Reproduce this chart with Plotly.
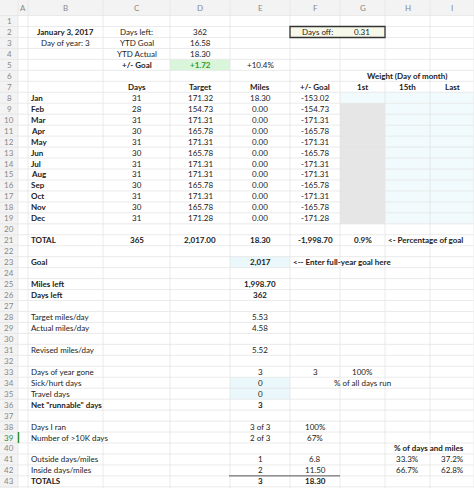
import plotly.graph_objects as go

# ---- data ----
months = ["Jan", "Feb", "Mar", "Apr", "May", "Jun", "Jul", "Aug", "Sep", "Oct", "Nov", "Dec"]
month_days = [31, 28, 31, 30, 31, 30, 31, 31, 30, 31, 30, 31]
month_target = [171.32, 154.73, 171.31, 165.78, 171.31, 165.78, 171.31, 171.31, 165.78, 171.31, 165.78, 171.28]
month_miles = [18.30, 0, 0, 0, 0, 0, 0, 0, 0, 0, 0, 0]
month_diff = [-153.02, -154.73, -171.31, -165.78, -171.31, -165.78, -171.31, -171.31, -165.78, -171.31, -165.78, -171.28]

col_letters = ["A", "B", "C", "D", "E", "F", "G", "H", "I"]
col_edges = [18, 28, 103, 170, 230, 290, 340, 385, 430, 474]
ROW_H = 10.96
N_ROWS = 43


def row_top(r):
    return 32 - ROW_H / 2 + (r - 2) * ROW_H


def row_mid(r):
    return 32 + (r - 2) * ROW_H


def col_mid(c):
    i = col_letters.index(c)
    return (col_edges[i] + col_edges[i + 1]) / 2


# (row, col, text, bold, align)
cells = [
    (2, "B", "January 3, 2017", True, "center"),
    (3, "B", "Day of year: 3", False, "center"),
    (2, "C", "Days left:", False, "center"),
    (3, "C", "YTD Goal", False, "center"),
    (4, "C", "YTD Actual", False, "center"),
    (5, "C", "+/- Goal", True, "center"),
    (2, "D", "362", False, "center"),
    (3, "D", "16.58", False, "center"),
    (4, "D", "18.30", False, "center"),
    (5, "E", "+10.4%", False, "center"),
    (7, "C", "Days", True, "center"),
    (7, "D", "Target", True, "center"),
    (7, "E", "Miles", True, "center"),
    (7, "F", "+/- Goal", True, "center"),
    (7, "G", "1st", True, "center"),
    (7, "H", "15th", True, "center"),
    (7, "I", "Last", True, "center"),
    (21, "B", "TOTAL", True, "left"),
    (21, "G", "0.9%", True, "center"),
    (21, "H", "<- Percentage of goal", True, "left"),
    (23, "B", "Goal", True, "left"),
    (23, "E", "2,017", True, "center"),
    (23, "F", "<-- Enter full-year goal here", True, "left"),
    (25, "B", "Miles left", True, "left"),
    (25, "E", "1,998.70", True, "center"),
    (26, "B", "Days left", True, "left"),
    (26, "E", "362", True, "center"),
    (28, "B", "Target miles/day", False, "left"),
    (28, "E", "5.53", False, "center"),
    (29, "B", "Actual miles/day", False, "left"),
    (29, "E", "4.58", False, "center"),
    (31, "B", "Revised miles/day", False, "left"),
    (31, "E", "5.52", False, "center"),
    (33, "B", "Days of year gone", False, "left"),
    (33, "E", "3", False, "center"),
    (33, "F", "3", False, "center"),
    (33, "G", "100%", False, "center"),
    (34, "B", "Sick/hurt days", False, "left"),
    (34, "E", "0", False, "center"),
    (34, "G", "% of all days run", False, "center"),
    (35, "B", "Travel days", False, "left"),
    (35, "E", "0", False, "center"),
    (36, "B", "Net \"runnable\" days", True, "left"),
    (36, "E", "3", True, "center"),
    (38, "B", "Days I ran", False, "left"),
    (38, "E", "3 of 3", False, "center"),
    (38, "F", "100%", False, "center"),
    (39, "B", "Number of >10K days", False, "left"),
    (39, "E", "2 of 3", False, "center"),
    (39, "F", "67%", False, "center"),
    (41, "B", "Outside days/miles", False, "left"),
    (41, "E", "1", False, "center"),
    (41, "F", "6.8", False, "center"),
    (41, "H", "33.3%", False, "center"),
    (41, "I", "37.2%", False, "center"),
    (42, "B", "Inside days/miles", False, "left"),
    (42, "E", "2", False, "center"),
    (42, "F", "11.50", False, "center"),
    (42, "H", "66.7%", False, "center"),
    (42, "I", "62.8%", False, "center"),
    (43, "B", "TOTALS", True, "left"),
    (43, "E", "3", True, "center"),
    (43, "F", "18.30", True, "center"),
]

for i, m in enumerate(months):
    r = 8 + i
    cells.append((r, "B", m, True, "left"))
    cells.append((r, "C", str(month_days[i]), False, "center"))
    cells.append((r, "D", f"{month_target[i]:.2f}", False, "center"))
    cells.append((r, "E", f"{month_miles[i]:.2f}", False, "center"))
    cells.append((r, "F", f"{month_diff[i]:.2f}", False, "center"))

cells.append((21, "C", f"{sum(month_days)}", True, "center"))
cells.append((21, "D", f"{sum(month_target):,.2f}", True, "center"))
cells.append((21, "E", f"{sum(month_miles):.2f}", True, "center"))
cells.append((21, "F", f"{sum(month_diff):,.2f}", True, "center"))

fig = go.Figure()
shapes = []
annotations = []
FONT = "Lato"
GRID = "#e4e4e4"

# header background
shapes.append(dict(type="rect", x0=0, x1=474, y0=0, y1=row_top(1), fillcolor="#f3f3f3", line_width=0, layer="below"))
shapes.append(dict(type="rect", x0=0, x1=18, y0=0, y1=488, fillcolor="#f3f3f3", line_width=0, layer="below"))


def fill(c0, c1, r0, r1, color):
    i0 = col_letters.index(c0)
    i1 = col_letters.index(c1)
    shapes.append(dict(type="rect", x0=col_edges[i0], x1=col_edges[i1 + 1], y0=row_top(r0), y1=row_top(r1 + 1),
                       fillcolor=color, line_width=0, layer="below"))


fill("G", "I", 8, 19, "#f1fbfd")
fill("G", "G", 9, 19, "#e6e6e6")
fill("D", "D", 5, 5, "#d9f6da")
fill("E", "E", 23, 23, "#eaf8fb")
fill("E", "E", 34, 35, "#eaf8fb")

# grid lines
for r in range(1, N_ROWS + 2):
    y = row_top(r)
    shapes.append(dict(type="line", x0=0, x1=474, y0=y, y1=y, line=dict(color=GRID, width=0.8), layer="below"))
for x in col_edges:
    shapes.append(dict(type="line", x0=x, x1=x, y0=0, y1=488, line=dict(color=GRID, width=0.8), layer="below"))

# days off box
shapes.append(dict(type="rect", x0=290, x1=385, y0=row_top(2), y1=row_top(3), fillcolor="#f6f9ea",
                   line=dict(color="#333333", width=1.3)))
annotations.append(dict(x=300, y=row_mid(2), text="Days off:", xanchor="left", showarrow=False,
                        font=dict(size=8, family=FONT, color="#222")))
annotations.append(dict(x=362, y=row_mid(2), text="0.31", showarrow=False,
                        font=dict(size=8, family=FONT, color="#222")))

# totals underline
shapes.append(dict(type="line", x0=229, x1=340, y0=row_top(43), y1=row_top(43), line=dict(color="#555", width=1)))
# selected row marker
shapes.append(dict(type="line", x0=18.5, x1=18.5, y0=row_top(39), y1=row_top(40), line=dict(color="#2e8b3a", width=1.5)))

# column letters and row numbers
for c in col_letters:
    annotations.append(dict(x=col_mid(c), y=row_top(1) / 2, text=c, showarrow=False,
                            font=dict(size=8, family=FONT, color="#888")))
for r in range(1, N_ROWS + 1):
    annotations.append(dict(x=9, y=row_mid(r), text=str(r), showarrow=False,
                            font=dict(size=8, family=FONT, color="#2e8b3a" if r == 39 else "#888")))

annotations.append(dict(x=407, y=row_mid(6), text="<b>Weight (Day of month)</b>", showarrow=False,
                        font=dict(size=8, family=FONT, color="#222")))
annotations.append(dict(x=429, y=row_mid(40), text="<b>% of days and miles</b>", showarrow=False,
                        font=dict(size=8, family=FONT, color="#222")))
annotations.append(dict(x=col_mid("D"), y=row_mid(5), text="<b>+1.72</b>", showarrow=False,
                        font=dict(size=8, family=FONT, color="#2a9a2a")))

for r, c, t, b, al in cells:
    x = col_mid(c) if al == "center" else col_edges[col_letters.index(c)] + 1
    annotations.append(dict(x=x, y=row_mid(r), text=f"<b>{t}</b>" if b else t, xanchor=al, showarrow=False,
                            font=dict(size=8, family=FONT, color="#222")))

fig.update_layout(
    width=474, height=488,
    margin=dict(l=0, r=0, t=0, b=0),
    plot_bgcolor="white", paper_bgcolor="white",
    xaxis=dict(range=[0, 474], visible=False, fixedrange=True),
    yaxis=dict(range=[488, 0], visible=False, fixedrange=True),
    shapes=shapes, annotations=annotations,
    showlegend=False,
)
fig.write_html("out.html", config={"displayModeBar": False},
               post_script="document.body.style.margin='0';document.body.style.overflow='hidden';")
